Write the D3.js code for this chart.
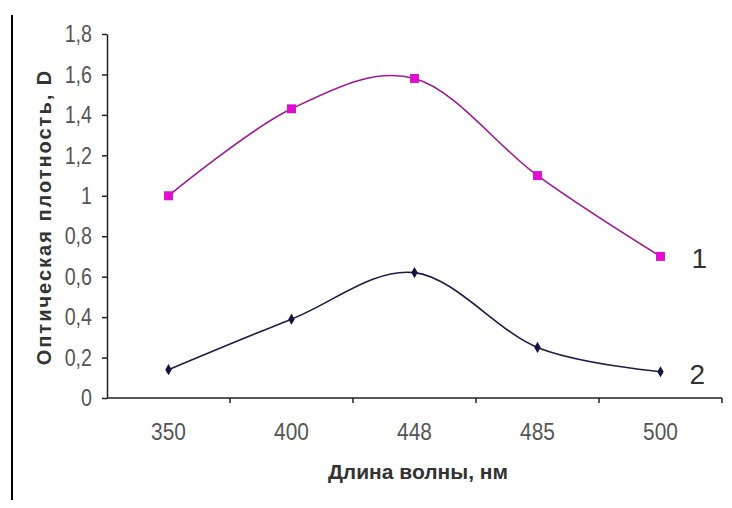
<!DOCTYPE html>
<html lang="ru">
<head>
<meta charset="UTF-8" />
<title>Оптическая плотность</title>
<script src="https://cdn.jsdelivr.net/npm/d3@7"></script>
<style>
    body { margin: 0; background: #fff; }
    text { font-family: Arial, 'Liberation Sans', sans-serif; }
</style>
</head>
<body>
<div id="chart"></div>
<script>
// data
const wavelengths = ['350', '400', '448', '485', '500']
const series1 = [1.0, 1.43, 1.58, 1.1, 0.7]
const series2 = [0.14, 0.39, 0.62, 0.25, 0.13]
const yTicks = [0, 0.2, 0.4, 0.6, 0.8, 1, 1.2, 1.4, 1.6, 1.8]

const width = 732
const height = 508
const squeeze = 0.82 // the original uses a narrow face

const svg = d3.select('#chart').append('svg').attr('width', width).attr('height', height)

// left frame line
svg.append('line')
    .attr('x1', 12).attr('x2', 12).attr('y1', 15).attr('y2', 500)
    .attr('stroke', '#000').attr('stroke-width', 2)

const x = d3.scaleBand().domain(wavelengths).range([107, 722])
const y = d3.scaleLinear().domain([0, 1.8]).range([398, 34])

const fmt = (d) => String(d).replace('.', ',')

// y axis
const yAxis = svg.append('g')
    .attr('transform', 'translate(107,0)')
    .call(d3.axisLeft(y).tickValues(yTicks).tickFormat(fmt).tickSize(5).tickSizeOuter(0).tickPadding(10))
yAxis.select('.domain').attr('stroke', '#222').attr('stroke-width', 1.5)
yAxis.selectAll('.tick line').attr('stroke', '#222').attr('stroke-width', 1.5)
yAxis.selectAll('.tick text')
    .attr('font-size', 24).attr('fill', '#555').attr('font-family', 'Arial, Liberation Sans, sans-serif')
    .attr('x', -15 / squeeze)
    .attr('transform', `scale(${squeeze},1)`)

// x axis, ticks between categories
const xAxis = svg.append('g').attr('transform', 'translate(0,398)')
xAxis.append('line')
    .attr('x1', x.range()[0]).attr('x2', x.range()[1])
    .attr('stroke', '#222').attr('stroke-width', 1.5)
xAxis.selectAll('.sep')
    .data(wavelengths)
    .enter()
    .append('line')
    .attr('x1', (d) => x(d) + x.bandwidth())
    .attr('x2', (d) => x(d) + x.bandwidth())
    .attr('y1', 0).attr('y2', 5)
    .attr('stroke', '#222').attr('stroke-width', 1.5)
xAxis.selectAll('.lbl')
    .data(wavelengths)
    .enter()
    .append('text')
    .attr('transform', (d) => `translate(${x(d) + x.bandwidth() / 2},42) scale(0.87,1)`)
    .attr('text-anchor', 'middle')
    .attr('font-size', 24)
    .attr('fill', '#555')
    .text((d) => d)

// axis titles
svg.append('text')
    .attr('transform', 'translate(51,217) rotate(-90)')
    .attr('text-anchor', 'middle')
    .attr('font-size', 20)
    .attr('font-weight', 'bold')
    .attr('letter-spacing', 2)
    .attr('fill', '#333')
    .text('Оптическая плотность, D')

svg.append('text')
    .attr('x', 418).attr('y', 479)
    .attr('text-anchor', 'middle')
    .attr('font-size', 21)
    .attr('font-weight', 'bold')
    .attr('fill', '#333')
    .text('Длина волны, нм')

const cx = (i) => x(wavelengths[i]) + x.bandwidth() / 2

const line = d3.line()
    .x((d, i) => cx(i))
    .y((d) => y(d))
    .curve(d3.curveCardinal.tension(0))

svg.append('path')
    .attr('d', line(series1))
    .attr('fill', 'none').attr('stroke', '#a01890').attr('stroke-width', 1.6)

svg.append('path')
    .attr('d', line(series2))
    .attr('fill', 'none').attr('stroke', '#1c1c48').attr('stroke-width', 1.6)

svg.selectAll('.m1')
    .data(series1)
    .enter()
    .append('rect')
    .attr('x', (d, i) => cx(i) - 4.5)
    .attr('y', (d) => y(d) - 4.5)
    .attr('width', 9).attr('height', 9)
    .attr('fill', '#e010d0')

svg.selectAll('.m2')
    .data(series2)
    .enter()
    .append('path')
    .attr('d', d3.symbol(d3.symbolDiamond, 36))
    .attr('transform', (d, i) => `translate(${cx(i)},${y(d)})`)
    .attr('fill', '#141440')

// series labels
svg.append('text')
    .attr('x', cx(4) + 31).attr('y', y(series1[4]) + 12)
    .attr('font-size', 28).attr('fill', '#333')
    .text('1')
svg.append('text')
    .attr('x', cx(4) + 29).attr('y', y(series2[4]) + 12)
    .attr('font-size', 28).attr('fill', '#333')
    .text('2')
</script>
</body>
</html>
